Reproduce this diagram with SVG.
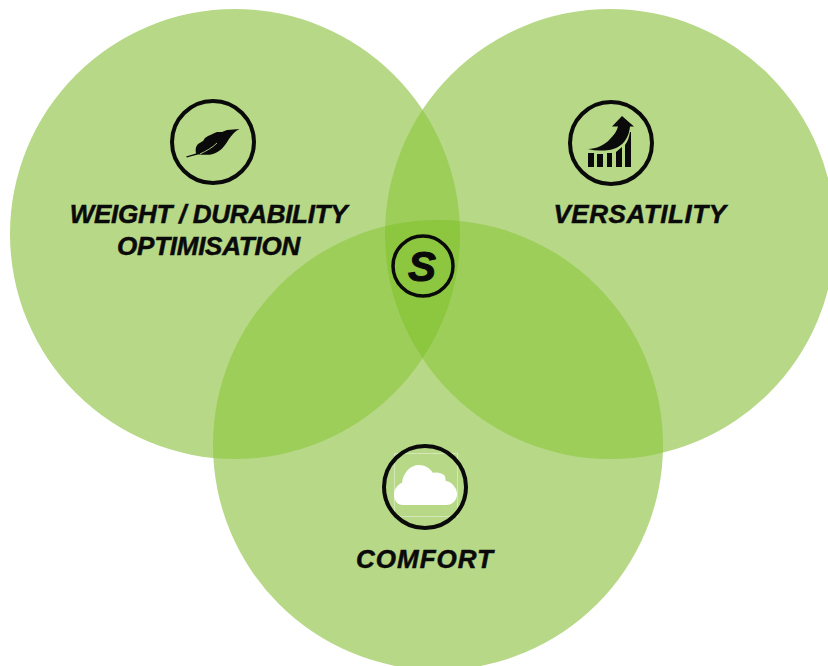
<svg xmlns="http://www.w3.org/2000/svg" width="828" height="666" viewBox="0 0 828 666">
<style>
.c{fill:#b7d887}
.d{fill:#9dce5a}
.e{fill:#8dc63f}
.r{fill:none;stroke:#0a0a0a;stroke-width:4}
.t{font-family:"Liberation Sans",Arial,sans-serif;font-weight:700;font-style:italic;font-size:26px;fill:#0a0a0a;stroke:#0a0a0a;stroke-width:.5;text-anchor:middle}
.k{fill:#0a0a0a}
</style>
<defs>
<clipPath id="inL"><circle cx="235" cy="234" r="225"/></clipPath>
<clipPath id="inR"><circle cx="610" cy="234" r="225"/></clipPath>
<clipPath id="inLR" clip-path="url(#inL)"><circle cx="610" cy="234" r="225"/></clipPath>
</defs>
<rect width="828" height="666" fill="#fff"/>
<g id="circle-weight"><circle class="c" cx="235" cy="234" r="225"/></g>
<g id="circle-versatility"><circle class="c" cx="610" cy="234" r="225"/></g>
<g id="circle-comfort"><circle class="c" cx="438" cy="445" r="225"/></g>
<g id="overlaps">
<circle class="d" cx="610" cy="234" r="225" clip-path="url(#inL)"/>
<circle class="d" cx="438" cy="445" r="225" clip-path="url(#inL)"/>
<circle class="d" cx="438" cy="445" r="225" clip-path="url(#inR)"/>
<circle class="e" cx="438" cy="445" r="225" clip-path="url(#inLR)"/>
</g>
<g id="connectors"></g>
<g id="node-weight">
<circle class="r" cx="213" cy="142" r="41"/>
<path class="k" d="M186 156.500 L196 153.500 C195 149 196 146 198 144 L203 141 L205 138 C209 135 213 134 217 132 L222 132 L227 130 L239.500 129 C235 131 232 135 229 139 C225 146 220 152 213 154 C208 155.500 202 154.500 198 154.500 C194 155.500 190 156.500 187 157.500 Z"/>
<path d="M200 154 C206 151 212 148 217 143" fill="none" stroke="#b7d887" stroke-width=".9"/>
<text class="t" x="208.500" y="223" letter-spacing="-.3">WEIGHT / DURABILITY</text>
<text class="t" x="208.500" y="255" letter-spacing="-.25">OPTIMISATION</text>
</g>
<g id="node-versatility">
<circle class="r" cx="611" cy="143" r="41"/>
<path class="k" d="M622 116 L634 126.500 L630 126.500 C629 136 625 143 618 147 C613 150 606 150.500 600 150.500 C596 150.500 592 150 588 149 C596 149 605 145 610 139 C614 135 617 131 618 126.500 L612 126.500 Z"/>
<path class="k" d="M588 153 H594 V167 H588 Z M597 154 H603 V167 H597 Z M607 153 H612 V167 H607 Z M616 152 L622 147 V167 H616 Z M625 145 C628 141 629 137 630 132 L631 132 V167 H625 Z"/>
<text class="t" x="640" y="223" letter-spacing=".55">VERSATILITY</text>
</g>
<g id="node-comfort">
<rect x="394.500" y="453.500" width="63" height="63" fill="none" stroke="#fff" stroke-opacity=".4" stroke-width="1"/>
<circle class="r" cx="425" cy="487" r="41"/>
<path fill="#fff" d="M403 505 C397 505 394 500 394 495 C394 489 398 484 402 483 C403 473 410 465 419 465 C425 465 430 468 433 473 C437 472 441 473 444 475 C446 477 445 480 446 481 C452 482 457 488 457 494 C457 500 453 505 446 505 Z"/>
<text class="t" x="425" y="568" letter-spacing="1">COMFORT</text>
</g>
<g id="node-s">
<circle cx="423" cy="266" r="30" fill="none" stroke="#0a0a0a" stroke-width="3.500"/>
<text x="422" y="281" font-family="'Liberation Sans',Arial,sans-serif" font-weight="700" font-style="italic" font-size="42" fill="#0a0a0a" stroke="#0a0a0a" stroke-width="1" text-anchor="middle">S</text>
</g>
</svg>
